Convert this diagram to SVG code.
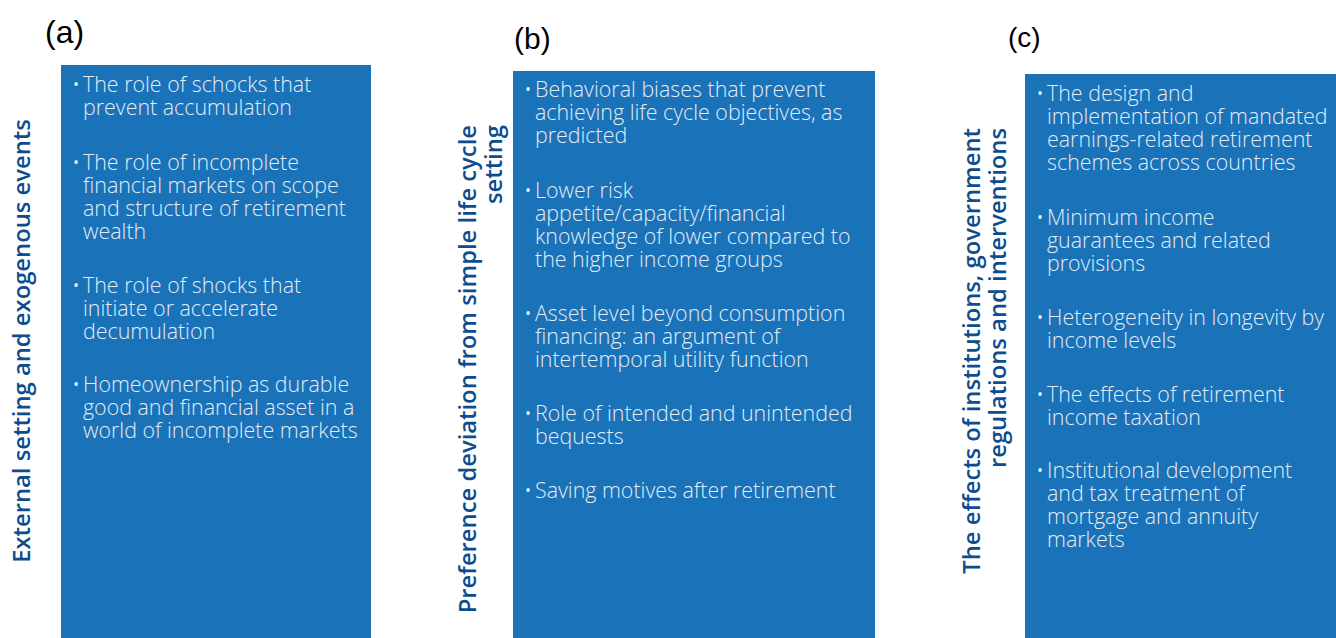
<svg xmlns="http://www.w3.org/2000/svg" width="1336" height="638" viewBox="0 0 1336 638">
<style>
.box{fill:#1a72b8}
.t{font-family:"Open Sans","Liberation Sans",sans-serif;font-weight:300;font-size:21.4px;fill:#e4ecf5}
.lab{font-family:"Open Sans","Liberation Sans",sans-serif;font-weight:600;font-size:23.8px;fill:#0d4c8e}
.pl{font-family:"Liberation Sans",sans-serif;fill:#000}
</style>
<rect width="1336" height="638" fill="#fff"/>
<g id="panel-a">
<text class="pl" x="45" y="43" style="font-size:32px">(a)</text>
<rect class="box" x="61" y="65" width="310" height="573"/>
<text class="lab" transform="translate(30,341) rotate(-90)" text-anchor="middle">External setting and exogenous events</text>
<text class="t"><tspan x="72" y="92">•</tspan><tspan x="83">The role of schocks that</tspan><tspan x="83" dy="23">prevent accumulation</tspan></text>
<text class="t"><tspan x="72" y="170">•</tspan><tspan x="83">The role of incomplete</tspan><tspan x="83" dy="23">financial markets on scope</tspan><tspan x="83" dy="23">and structure of retirement</tspan><tspan x="83" dy="23">wealth</tspan></text>
<text class="t"><tspan x="72" y="293">•</tspan><tspan x="83">The role of shocks that</tspan><tspan x="83" dy="23">initiate or accelerate</tspan><tspan x="83" dy="23">decumulation</tspan></text>
<text class="t"><tspan x="72" y="392">•</tspan><tspan x="83">Homeownership as durable</tspan><tspan x="83" dy="23">good and financial asset in a</tspan><tspan x="83" dy="23">world of incomplete markets</tspan></text>
</g>
<g id="panel-b">
<text class="pl" x="514" y="49" style="font-size:30px">(b)</text>
<rect class="box" x="513" y="71" width="362" height="567"/>
<text class="lab" transform="translate(476,125) rotate(-90)" text-anchor="end">Preference deviation from simple life cycle</text>
<text class="lab" transform="translate(502,125) rotate(-90)" text-anchor="end">setting</text>
<text class="t"><tspan x="524" y="97">•</tspan><tspan x="535">Behavioral biases that prevent</tspan><tspan x="535" dy="23">achieving life cycle objectives, as</tspan><tspan x="535" dy="23">predicted</tspan></text>
<text class="t"><tspan x="524" y="198">•</tspan><tspan x="535">Lower risk</tspan><tspan x="535" dy="23">appetite/capacity/financial</tspan><tspan x="535" dy="23">knowledge of lower compared to</tspan><tspan x="535" dy="23">the higher income groups</tspan></text>
<text class="t"><tspan x="524" y="321">•</tspan><tspan x="535">Asset level beyond consumption</tspan><tspan x="535" dy="23">financing: an argument of</tspan><tspan x="535" dy="23">intertemporal utility function</tspan></text>
<text class="t"><tspan x="524" y="421">•</tspan><tspan x="535">Role of intended and unintended</tspan><tspan x="535" dy="23">bequests</tspan></text>
<text class="t"><tspan x="524" y="498">•</tspan><tspan x="535">Saving motives after retirement</tspan></text>
</g>
<g id="panel-c">
<text class="pl" x="1008" y="47" style="font-size:28px">(c)</text>
<rect class="box" x="1025" y="74" width="311" height="564"/>
<text class="lab" transform="translate(980,128) rotate(-90)" text-anchor="end">The effects of institutions, government</text>
<text class="lab" transform="translate(1006,128) rotate(-90)" text-anchor="end">regulations and interventions</text>
<text class="t"><tspan x="1036" y="101">•</tspan><tspan x="1047">The design and</tspan><tspan x="1047" dy="23">implementation of mandated</tspan><tspan x="1047" dy="23">earnings-related retirement</tspan><tspan x="1047" dy="23">schemes across countries</tspan></text>
<text class="t"><tspan x="1036" y="225">•</tspan><tspan x="1047">Minimum income</tspan><tspan x="1047" dy="23">guarantees and related</tspan><tspan x="1047" dy="23">provisions</tspan></text>
<text class="t"><tspan x="1036" y="325">•</tspan><tspan x="1047">Heterogeneity in longevity by</tspan><tspan x="1047" dy="23">income levels</tspan></text>
<text class="t"><tspan x="1036" y="402">•</tspan><tspan x="1047">The effects of retirement</tspan><tspan x="1047" dy="23">income taxation</tspan></text>
<text class="t"><tspan x="1036" y="478">•</tspan><tspan x="1047">Institutional development</tspan><tspan x="1047" dy="23">and tax treatment of</tspan><tspan x="1047" dy="23">mortgage and annuity</tspan><tspan x="1047" dy="23">markets</tspan></text>
</g>
</svg>
